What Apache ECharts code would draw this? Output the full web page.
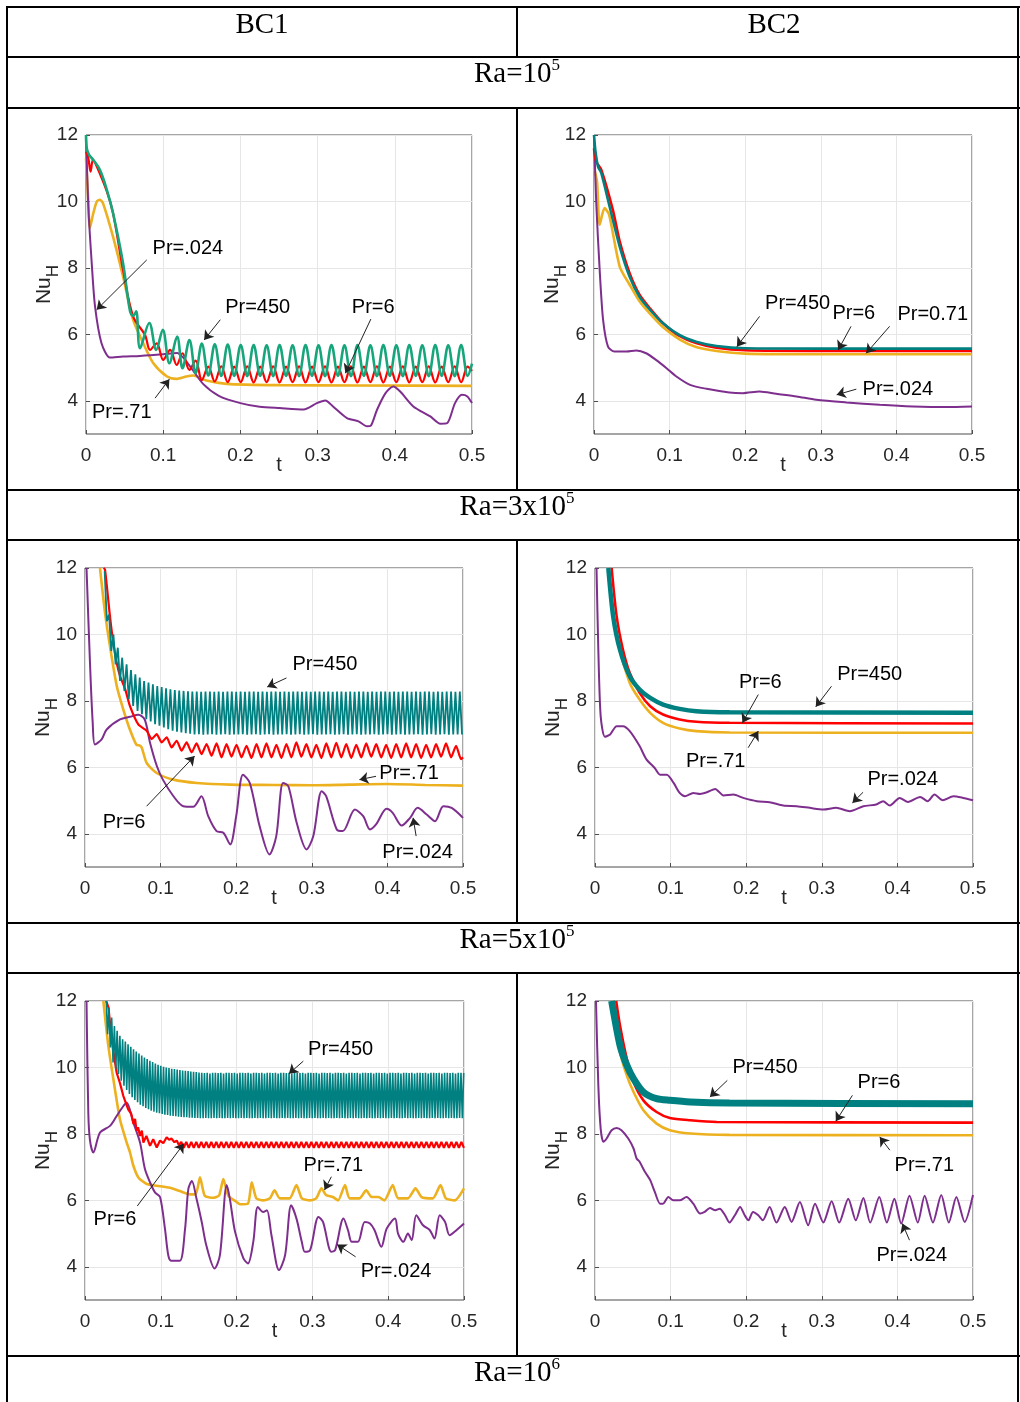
<!DOCTYPE html>
<html><head><meta charset="utf-8">
<script src="https://cdn.jsdelivr.net/npm/echarts@6/dist/echarts.min.js"></script>
<style>html,body{margin:0;padding:0;background:#fff}#c{width:1020px;height:1402px}</style>
</head><body><div id="c"></div><script>
// ---------------- DATA ----------------
const xTicks = [0, 0.1, 0.2, 0.3, 0.4, 0.5];
const yTicks = [4, 6, 8, 10, 12];
const colHeads = ['BC1', 'BC2'];
const rowBases = ['Ra=10', 'Ra=3x10', 'Ra=5x10', 'Ra=10'];
const rowExps = ['5', '5', '5', '6'];

// Panel 1: BC1, Ra=1e5
const p1_pr024 = [[0,12],[0.003,9.84],[0.0074,8.15],[0.0117,6.84],[0.02,5.74],[0.031,5.3],[0.048,5.33],[0.07,5.35],[0.1,5.4],[0.118,5.44],[0.126,5.3],[0.135,5.03],[0.152,4.5],[0.172,4.15],[0.2,3.93],[0.225,3.82],[0.251,3.78],[0.282,3.74],[0.299,3.93],[0.31,4.01],[0.32,3.83],[0.338,3.48],[0.353,3.38],[0.364,3.23],[0.369,3.25],[0.377,3.73],[0.388,4.23],[0.398,4.43],[0.407,4.28],[0.424,3.83],[0.446,3.53],[0.459,3.31],[0.468,3.33],[0.478,3.93],[0.487,4.18],[0.494,4.13],[0.5,3.93]];
const p1_pr071 = [[0,11.3],[0.003,10.0],[0.005,9.2],[0.009,9.6],[0.014,10.0],[0.018,10.05],[0.022,9.95],[0.035,8.94],[0.048,7.74],[0.061,6.44],[0.074,5.74],[0.087,5.14],[0.105,4.73],[0.117,4.66],[0.13,4.73],[0.139,4.76],[0.156,4.61],[0.182,4.51],[0.25,4.47],[0.35,4.46],[0.5,4.45]];
const p1_pr6_head = [[0,11.5],[0.003,11.3],[0.006,10.9],[0.009,11.25],[0.014,11.05],[0.027,10.3],[0.035,9.65],[0.048,7.94],[0.061,6.54],[0.0765,5.98],[0.083,5.53],[0.0916,5.73],[0.1,5.23],[0.109,5.53],[0.1175,5.08],[0.125,5.43],[0.134,4.93],[0.142,5.21]];
const p1_pr6_osc = [4.62,5.03,4.58,5.04,4.56,5.03,4.56,5.04,4.55,5.03,
4.56,5.04,4.55,5.03,4.56,5.04,4.55,5.03,4.56,5.04,
4.55,5.03,4.56,5.04,4.55,5.03,4.56,5.04,4.55,5.03,
4.56,5.04,4.55,5.03,4.56,5.04,4.55,5.03,4.56,5.04,
4.56];
const p1_pr6_tail = [[0.4944,5.03],[0.5,4.9]];
const p1_pr450_head = [[0,12],[0.001,11.6],[0.004,11.4],[0.0095,11.25],[0.018,10.95],[0.027,10.35],[0.035,9.65],[0.048,8.14],[0.057,6.7],[0.061,6.55],[0.065,6.69],[0.07,5.58],[0.082,6.34],[0.091,5.53],[0.0994,6.14],[0.108,5.13],[0.118,5.93],[0.125,4.98],[0.134,5.83],[0.142,4.83]];
const p1_pr450_osc = [5.72,4.76,5.7,4.75,5.69,4.75,5.68,4.74,5.68,4.75,
5.67,4.74,5.68,4.75,5.67,4.74,5.68,4.75,5.67,4.74,
5.68,4.75,5.67,4.74,5.68,4.75,5.67,4.74,5.68,4.75,
5.67,4.74,5.68,4.75,5.67,4.74,5.68,4.75,5.67,4.74,
5.68];
const p1_pr450_tail = [[0.4944,4.75],[0.5,5.12]];
const p1_osc_t0 = 0.150, p1_osc_dt = 0.0084;

// Panel 2: BC2, Ra=1e5
const p2_pr024 = [[0,12],[0.003,9.94],[0.0075,7.94],[0.012,6.44],[0.0185,5.63],[0.027,5.48],[0.043,5.48],[0.056,5.51],[0.069,5.43],[0.082,5.23],[0.096,4.98],[0.109,4.73],[0.127,4.48],[0.149,4.36],[0.179,4.25],[0.197,4.23],[0.219,4.28],[0.241,4.21],[0.268,4.13],[0.294,4.03],[0.334,3.95],[0.378,3.88],[0.422,3.83],[0.466,3.81],[0.5,3.83]];
const p2_pr071 = [[0,11],[0.004,10.6],[0.0075,9.3],[0.014,9.8],[0.02,9.6],[0.034,8.04],[0.047,7.5],[0.06,7.0],[0.074,6.62],[0.091,6.22],[0.113,5.85],[0.135,5.62],[0.162,5.5],[0.2,5.42],[0.3,5.4],[0.5,5.4]];
const p2_pr6 = [[0,11.6],[0.003,11.2],[0.0097,10.95],[0.025,9.74],[0.034,8.8],[0.047,7.85],[0.06,7.2],[0.074,6.78],[0.091,6.34],[0.113,5.95],[0.135,5.74],[0.162,5.6],[0.2,5.52],[0.3,5.5],[0.5,5.5]];
const p2_pr450 = [[0,12],[0.002,11.5],[0.0053,11.05],[0.0097,10.85],[0.0207,9.84],[0.034,8.64],[0.047,7.74],[0.06,7.14],[0.074,6.74],[0.091,6.34],[0.113,5.98],[0.135,5.78],[0.162,5.65],[0.2,5.58],[0.3,5.57],[0.5,5.57]];

// Panel 3: BC1, Ra=3e5
const p3_pr024 = [[0.002,12],[0.0066,9.14],[0.0102,7.34],[0.0132,6.69],[0.022,6.84],[0.0287,7.14],[0.0463,7.44],[0.0595,7.52],[0.0705,7.58],[0.079,7.44],[0.086,6.74],[0.095,6.04],[0.103,5.63],[0.117,5.13],[0.13,4.83],[0.143,4.81],[0.154,5.13],[0.163,4.53],[0.174,4.08],[0.183,4.03],[0.192,3.68],[0.2,4.53],[0.209,5.78],[0.218,5.53],[0.231,4.23],[0.244,3.38],[0.253,3.93],[0.262,5.53],[0.269,5.43],[0.28,4.33],[0.293,3.53],[0.302,3.93],[0.313,5.28],[0.319,5.13],[0.333,4.13],[0.341,4.08],[0.357,4.73],[0.368,4.53],[0.377,4.13],[0.385,4.28],[0.399,4.75],[0.407,4.63],[0.419,4.25],[0.43,4.48],[0.44,4.78],[0.452,4.58],[0.463,4.38],[0.474,4.83],[0.485,4.78],[0.5,4.48]];
const p3_pr071 = [[0.0198,12],[0.0265,10.65],[0.033,9.65],[0.042,8.45],[0.0507,7.74],[0.0595,7.13],[0.068,6.68],[0.072,6.66],[0.075,6.6],[0.0816,6.13],[0.0948,5.83],[0.117,5.63],[0.148,5.53],[0.192,5.48],[0.25,5.47],[0.3,5.46],[0.35,5.48],[0.4,5.5],[0.45,5.47],[0.5,5.45]];
const p3_pr6_head = [[0.0245,12],[0.0265,11.95],[0.033,10.55],[0.0375,9.74],[0.042,9.14],[0.0463,8.75],[0.053,8.36],[0.0595,7.84],[0.0705,7.29]];
const p3_pr6_osc = [7.1,6.85,7.0,6.75,6.9,6.6,6.8,6.5,6.75,6.45,
6.72,6.4,6.7,6.35,6.72,6.3,6.7,6.32,6.68,6.3,
6.65,6.28,6.7,6.3,6.72,6.3,6.68,6.28,6.7,6.3,
6.75,6.32,6.7,6.3,6.68,6.28,6.72,6.3,6.74,6.3,
6.7,6.28,6.68,6.3,6.72,6.32,6.7,6.3,6.68,6.28,
6.7,6.3,6.72,6.3,6.7,6.28,6.68,6.3,6.7,6.32,
6.72,6.3,6.65,6.25];
const p3_pr6_tail = [[0.5,6.3]];
const p3_pr6_t0 = 0.0816, p3_pr6_dt = 0.0066;
const p3_pr450_osc = [11.9,10.4,10.6,9.5,10.0,9.1,9.6,8.6,9.3,8.3,
9.1,8.05,8.93,7.85,8.8,7.7,8.7,7.6,8.6,7.45,
8.55,7.38,8.5,7.3,8.45,7.25,8.42,7.2,8.38,7.15,
8.35,7.1,8.33,7.07,8.31,7.05,8.3,7.03,8.29,7.01,
8.28,
6.99,8.28,7.0,8.27,6.98,8.28,6.99,8.28,7.0,8.27,
6.98,8.28,6.99,8.27,7.0,8.28,6.98,8.28,6.99,8.27,
6.99,8.28,7.0,8.27,6.98,8.28,6.99,8.28,7.0,8.27,
6.98,8.28,6.99,8.27,7.0,8.28,6.98,8.28,6.99,8.27,
6.99,8.28,7.0,8.27,6.98,8.28,6.99,8.28,7.0,8.27,
6.98,8.28,6.99,8.27,7.0,8.28,6.98,8.28,6.99,8.27,
6.99,8.28,7.0,8.27,6.98,8.28,6.99,8.28,7.0,8.27,
6.98,8.28,6.99,8.27,7.0,8.28,6.98,8.28,6.99,8.27,
6.99,8.28,7.0,8.27,6.98,8.28,6.99,8.28,7.0,8.27,
6.98,8.28,6.99,8.27,7.0,8.28,6.98,8.28,6.99,8.27,
6.99,8.28,7.0,8.27,6.98,8.28,6.99,8.28,7.0,8.27,
6.98,8.28,6.99,8.27,7.0,8.28,6.98,8.28,6.99,8.27,
6.99,8.28,6.99];
const p3_pr450_t0 = 0.026, p3_pr450_dt = 0.0029;

// Panel 4: BC2, Ra=3e5
const p4_pr024 = [[0.002,12],[0.0044,9.54],[0.0075,7.54],[0.013,6.92],[0.02,6.99],[0.0286,7.24],[0.037,7.24],[0.046,7.09],[0.059,6.64],[0.068,6.24],[0.079,5.98],[0.086,5.78],[0.095,5.78],[0.104,5.53],[0.112,5.23],[0.119,5.13],[0.13,5.23],[0.139,5.2],[0.148,5.25],[0.159,5.35],[0.17,5.15],[0.183,5.18],[0.196,5.08],[0.214,4.98],[0.231,4.95],[0.249,4.85],[0.267,4.83],[0.284,4.78],[0.302,4.73],[0.319,4.78],[0.337,4.68],[0.355,4.83],[0.372,4.88],[0.381,4.98],[0.39,4.85],[0.403,5.08],[0.414,4.96],[0.43,5.11],[0.44,4.98],[0.449,5.18],[0.46,5.01],[0.474,5.13],[0.487,5.08],[0.5,5.01]];
const p4_pr071 = [[0.0176,12],[0.022,11.0],[0.03,9.8],[0.046,8.54],[0.059,8.04],[0.073,7.64],[0.09,7.34],[0.112,7.17],[0.134,7.09],[0.178,7.05],[0.5,7.04]];
const p4_pr6 = [[0.022,12],[0.0286,10.55],[0.037,9.54],[0.046,8.84],[0.059,8.24],[0.073,7.84],[0.09,7.59],[0.112,7.44],[0.134,7.37],[0.178,7.34],[0.5,7.32]];
const p4_pr450 = [[0.0176,12],[0.024,10.55],[0.033,9.54],[0.046,8.74],[0.059,8.34],[0.073,8.09],[0.09,7.89],[0.112,7.76],[0.134,7.69],[0.178,7.66],[0.5,7.64]];

// Panel 5: BC1, Ra=5e5
const p5_pr024 = [[0.002,12],[0.0044,8.6],[0.0066,7.8],[0.011,7.44],[0.0198,8.04],[0.033,8.24],[0.0418,8.54],[0.0506,8.84],[0.055,8.94],[0.0638,8.34],[0.0726,7.74],[0.079,6.95],[0.0858,6.54],[0.0923,6.24],[0.099,6.1],[0.1055,5.14],[0.11,4.33],[0.114,4.18],[0.125,4.18],[0.132,5.14],[0.1363,6.34],[0.141,6.58],[0.147,6.06],[0.154,5.35],[0.16,4.65],[0.171,3.95],[0.178,4.35],[0.187,6.46],[0.191,6.06],[0.198,5.05],[0.209,4.25],[0.215,4.1],[0.222,4.75],[0.228,5.8],[0.235,5.65],[0.24,5.7],[0.246,4.95],[0.256,3.9],[0.264,4.35],[0.272,5.85],[0.279,5.45],[0.286,4.75],[0.29,4.45],[0.297,4.5],[0.308,5.5],[0.314,5.35],[0.325,4.45],[0.33,4.5],[0.341,5.45],[0.347,5.1],[0.352,4.75],[0.36,4.75],[0.369,5.35],[0.376,5.3],[0.382,5.1],[0.391,4.6],[0.398,5.15],[0.409,5.45],[0.413,5.0],[0.42,4.75],[0.426,5.0],[0.431,4.8],[0.437,5.55],[0.446,5.25],[0.455,5.1],[0.461,4.85],[0.468,5.55],[0.475,5.35],[0.481,4.95],[0.49,5.1],[0.5,5.3]];
const p5_pr071 = [[0.0242,12],[0.0308,10.65],[0.0374,9.65],[0.046,8.45],[0.055,7.74],[0.0594,7.44],[0.0638,7.04],[0.0704,6.69],[0.0814,6.49],[0.0946,6.44],[0.112,6.38],[0.125,6.28],[0.138,6.18],[0.146,6.18],[0.1517,6.69],[0.158,6.14],[0.169,6.08],[0.177,6.15],[0.1825,6.64],[0.189,6.14],[0.2,5.95],[0.2045,5.88],[0.215,5.9],[0.22,6.54],[0.226,6.06],[0.235,6.0],[0.244,6.06],[0.25,6.3],[0.257,6.06],[0.27,6.06],[0.279,6.46],[0.286,6.06],[0.297,6.0],[0.305,6.06],[0.312,6.36],[0.318,6.16],[0.327,6.1],[0.334,6.0],[0.343,6.46],[0.349,6.06],[0.362,6.06],[0.371,6.3],[0.378,6.1],[0.387,6.1],[0.395,6.0],[0.406,6.46],[0.413,6.06],[0.426,6.06],[0.436,6.36],[0.444,6.1],[0.459,6.06],[0.469,6.46],[0.476,6.06],[0.488,6.0],[0.5,6.36]];
const p5_pr6_head = [[0.028,12],[0.031,11.8],[0.035,10.85],[0.0418,9.84],[0.046,9.54],[0.0506,9.14],[0.057,8.74],[0.061,8.6],[0.064,8.3],[0.066,8.45],[0.068,8.1],[0.07,8.2],[0.0726,7.94],[0.075,8.1],[0.077,7.74],[0.081,7.94],[0.0858,7.64],[0.09,7.84],[0.0946,7.59],[0.099,7.8],[0.1033,7.72],[0.1077,7.9],[0.111,7.82],[0.114,7.86],[0.118,7.75],[0.121,7.8],[0.124,7.66]];
const p5_pr6_osc = [7.76,7.58,7.76,7.58,7.76,7.58,7.76,7.58,7.76,7.58,
7.76,7.58,7.76,7.58,7.76,7.58,7.76,7.58,7.76,7.58,
7.76,7.58,7.76,7.58,7.76,7.58,7.76,7.58,7.76,7.58,
7.76,7.58,7.76,7.58,7.76,7.58,7.76,7.58,7.76,7.58,
7.76,7.58,7.76,7.58,7.76,7.58,7.76,7.58,7.76,7.58,
7.76,7.58,7.76,7.58,7.76,7.58,7.76,7.58,7.76,7.58,
7.76,7.58,7.76,7.58,7.76,7.58,7.76,7.58,7.76,7.58,
7.76,7.58,7.76,7.58,7.76,7.58,7.76,7.58,7.76,7.58,
7.76,7.58,7.76,7.58,7.76,7.58,7.76,7.58,7.76,7.58,
7.76,7.58,7.76,7.58,7.76,7.58,7.76,7.58,7.76,7.58,
7.76,7.58,7.76,7.58,7.76,7.58,7.76,7.58,7.76,7.58,
7.76,7.58,7.76,7.58];
const p5_pr6_t0 = 0.127, p5_pr6_dt = 0.0033;
const p5_pr450_osc = [12.0,11.0,11.8,10.6,11.5,10.15,11.25,9.95,11.1,9.8,
10.95,9.6,10.85,9.45,10.78,9.32,10.7,9.2,10.62,9.1,
10.55,9.02,10.48,8.95,10.42,8.88,10.36,8.83,10.3,8.78,
10.25,8.74,10.2,8.7,10.16,8.67,10.12,8.64,10.08,8.62,
10.05,8.6,10.02,8.58,10.0,8.57,9.98,8.55,9.96,8.54,
9.95,8.53,9.94,8.52,9.92,8.51,9.91,8.5,9.9,8.5,
9.89,8.49,9.88,8.49,9.87,8.48,9.86,8.48,9.85,8.47,
9.84,8.47,9.83,8.48,9.84,8.47,9.82,8.47,9.84,8.48,9.84,8.47,9.83,8.48,9.84,8.47,9.82,8.47,9.84,8.48,
9.84,8.47,9.83,8.48,9.84,8.47,9.82,8.47,9.84,8.48,9.84,8.47,9.83,8.48,9.84,8.47,9.82,8.47,9.84,8.48,
9.84,8.47,9.83,8.48,9.84,8.47,9.82,8.47,9.84,8.48,9.84,8.47,9.83,8.48,9.84,8.47,9.82,8.47,9.84,8.48,
9.84,8.47,9.83,8.48,9.84,8.47,9.82,8.47,9.84,8.48,9.84,8.47,9.83,8.48,9.84,8.47,9.82,8.47,9.84,8.48,
9.84,8.47,9.83,8.48,9.84,8.47,9.82,8.47,9.84,8.48,9.84,8.47,9.83,8.48,9.84,8.47,9.82,8.47,9.84,8.48,
9.84,8.47,9.83,8.48,9.84,8.47,9.82,8.47,9.84,8.48,9.84,8.47,9.83,8.48,9.84,8.47,9.82,8.47,9.84,8.48,
9.84,8.47,9.83,8.48,9.84,8.47,9.82,8.47,9.84,8.48,9.84,8.47,9.83,8.48,9.84,8.47,9.82,8.47,9.84,8.48,
9.84,8.47,9.83,8.48,9.84,8.47,9.82,8.47,9.84,8.48,9.84,8.47,9.83,8.48,9.84,8.47,9.82,8.47,9.84,8.48,
9.84,8.47,9.83,8.48,9.84,8.47,9.82,8.47,9.84,8.48,9.84,8.47,9.83,8.48,9.84,8.47,9.82,8.47,9.84,8.48,
9.84,8.47,9.83,8.48,9.84,8.47,9.82,8.47,9.84,8.48,9.84,8.47,
9.83];
const p5_pr450_t0 = 0.028, p5_pr450_dt = 0.0018;

// Panel 6: BC2, Ra=5e5
const p6_pr024 = [[0.0013,12],[0.0044,9.46],[0.0075,8.16],[0.011,7.76],[0.0154,7.86],[0.022,8.11],[0.0286,8.18],[0.035,8.11],[0.044,7.86],[0.051,7.56],[0.055,7.26],[0.059,7.16],[0.066,6.86],[0.073,6.61],[0.079,6.26],[0.086,5.9],[0.09,5.9],[0.097,6.1],[0.1035,6.0],[0.112,6.0],[0.121,6.1],[0.13,5.9],[0.139,5.6],[0.145,5.65],[0.152,5.77],[0.159,5.7],[0.165,5.75],[0.172,5.55],[0.178,5.33],[0.185,5.55],[0.192,5.8],[0.198,5.55],[0.203,5.4],[0.209,5.65],[0.216,5.55],[0.222,5.4],[0.231,5.8],[0.24,5.33],[0.251,5.8],[0.26,5.35],[0.271,5.95],[0.282,5.25],[0.291,5.9],[0.302,5.33],[0.313,5.97],[0.323,5.33],[0.335,6.05],[0.345,5.4],[0.355,6.07],[0.364,5.33],[0.376,6.1],[0.386,5.33],[0.396,6.05],[0.405,5.3],[0.416,6.14],[0.427,5.33],[0.436,6.14],[0.447,5.33],[0.458,6.16],[0.468,5.33],[0.478,6.1],[0.489,5.35],[0.5,6.16]];
const p6_pr071 = [[0.022,12],[0.033,10.47],[0.042,9.76],[0.051,9.26],[0.064,8.71],[0.0815,8.31],[0.099,8.11],[0.126,8.01],[0.178,7.97],[0.5,7.96]];
const p6_pr6 = [[0.028,12],[0.033,11.27],[0.042,10.27],[0.051,9.56],[0.064,9.01],[0.0815,8.66],[0.099,8.48],[0.126,8.41],[0.161,8.36],[0.5,8.34]];
const p6_pr450 = [[0.022,12],[0.033,10.67],[0.042,10.07],[0.051,9.66],[0.064,9.26],[0.0815,9.06],[0.099,9.01],[0.126,8.96],[0.178,8.93],[0.5,8.91]];

// Annotations: [label, label anchor, arrow start, arrow end]
const notes1 = [['Pr=.024',[0.085,8.59],[0.0787,8.24],[0.0138,6.74]],['Pr=450',[0.179,6.82],[0.174,6.44],[0.153,5.83]],['Pr=6',[0.343,6.82],[0.369,6.46],[0.336,4.83]],['Pr=.71',[0.0065,3.66],[0.0895,4.08],[0.108,4.65]]];
const notes2 = [['Pr=450',[0.225,6.94],[0.219,6.54],[0.189,5.63]],['Pr=6',[0.314,6.62],[0.340,6.24],[0.323,5.53]],['Pr=0.71',[0.40,6.59],[0.391,6.24],[0.360,5.43]],['Pr=.024',[0.354,4.33],[0.347,4.35],[0.321,4.18]]];
const notes3 = [['Pr=450',[0.273,9.11],[0.2665,8.69],[0.241,8.42]],['Pr=6',[0.022,4.33],[0.0815,4.83],[0.145,6.34]],['Pr=.71',[0.388,5.81],[0.385,5.73],[0.363,5.63]],['Pr=.024',[0.392,3.43],[0.438,3.93],[0.434,4.48]]];
const notes4 = [['Pr=6',[0.189,8.56],[0.216,8.19],[0.195,7.34]],['Pr=450',[0.319,8.79],[0.3128,8.44],[0.292,7.82]],['Pr=.71',[0.119,6.19],[0.2026,6.59],[0.216,7.09]],['Pr=.024',[0.359,5.63],[0.3546,5.25],[0.3405,4.93]]];
const notes5 = [['Pr=450',[0.293,10.55],[0.288,10.19],[0.269,9.81]],['Pr=6',[0.010,5.42],[0.069,5.83],[0.1305,7.71]],['Pr=.71',[0.287,7.06],[0.325,6.71],[0.316,6.31]],['Pr=.024',[0.3625,3.87],[0.357,4.30],[0.3326,4.67]]];
const notes6 = [['Pr=450',[0.1806,10.01],[0.175,9.61],[0.152,9.11]],['Pr=6',[0.346,9.54],[0.3405,9.16],[0.3185,8.38]],['Pr=.71',[0.395,7.04],[0.390,7.51],[0.3767,7.91]],['Pr=.024',[0.371,4.35],[0.416,4.8],[0.4066,5.3]]];

// ---------------- BUILD ----------------
function osc(t0, dt, ys) { return ys.map((y, i) => [Math.round((t0 + i * dt) * 1e6) / 1e6, y]); }

const PURPLE = '#7E2F8E', YELLOW = '#EDB120', RED = '#FF0000', TEAL = '#008080', GREEN = '#17A57B';
const SANS = 'Liberation Sans, Arial, sans-serif';
const SERIF = 'Liberation Serif, Times New Roman, serif';

const GRIDS = [
  {left: 86, top: 135, width: 386, height: 299},
  {left: 594, top: 135, width: 378, height: 299},
  {left: 85, top: 568, width: 378, height: 299},
  {left: 595, top: 568, width: 378, height: 299},
  {left: 85, top: 1001, width: 379, height: 299},
  {left: 595, top: 1001, width: 378, height: 299}
];

const panelLines = [
  [
    {d: p1_pr071, c: YELLOW, w: 2.6, s: 0.25},
    {d: p1_pr024, c: PURPLE, w: 2, s: 0.25},
    {d: p1_pr6_head.concat(osc(p1_osc_t0, p1_osc_dt, p1_pr6_osc), p1_pr6_tail), c: RED, w: 2.2, s: 0.35},
    {d: p1_pr450_head.concat(osc(p1_osc_t0, p1_osc_dt, p1_pr450_osc), p1_pr450_tail), c: GREEN, w: 2.6, s: 0.35}
  ],
  [
    {d: p2_pr071, c: YELLOW, w: 2.6, s: 0.25},
    {d: p2_pr024, c: PURPLE, w: 2, s: 0.25},
    {d: p2_pr6, c: RED, w: 2.6, s: 0.25},
    {d: p2_pr450, c: TEAL, w: 2.6, s: 0.25}
  ],
  [
    {d: p3_pr071, c: YELLOW, w: 2.6, s: 0.25},
    {d: p3_pr024, c: PURPLE, w: 2, s: 0.3},
    {d: p3_pr6_head.concat(osc(p3_pr6_t0, p3_pr6_dt, p3_pr6_osc), p3_pr6_tail), c: RED, w: 2.2, s: 0.2},
    {d: osc(p3_pr450_t0, p3_pr450_dt, p3_pr450_osc), c: TEAL, w: 1.8, s: false}
  ],
  [
    {d: p4_pr071, c: YELLOW, w: 2.6, s: 0.25},
    {d: p4_pr024, c: PURPLE, w: 2, s: 0.25},
    {d: p4_pr6, c: RED, w: 2.6, s: 0.25},
    {d: p4_pr450, c: TEAL, w: 4.5, s: 0.25}
  ],
  [
    {d: p5_pr071, c: YELLOW, w: 2.6, s: 0.2},
    {d: p5_pr024, c: PURPLE, w: 2, s: 0.3},
    {d: p5_pr6_head.concat(osc(p5_pr6_t0, p5_pr6_dt, p5_pr6_osc)), c: RED, w: 2.2, s: false},
    {d: osc(p5_pr450_t0, p5_pr450_dt, p5_pr450_osc), c: TEAL, w: 1.6, s: false}
  ],
  [
    {d: p6_pr071, c: YELLOW, w: 2.6, s: 0.25},
    {d: p6_pr024, c: PURPLE, w: 2, s: 0.25},
    {d: p6_pr6, c: RED, w: 2.6, s: 0.25},
    {d: p6_pr450, c: TEAL, w: 7, s: 0.25}
  ]
];
const panelNotes = [notes1, notes2, notes3, notes4, notes5, notes6];

const grid = [], xAxis = [], yAxis = [], series = [];
GRIDS.forEach((g, i) => {
  grid.push(Object.assign({show: true, borderColor: '#4d4d4d', borderWidth: 1, backgroundColor: '#fff', containLabel: false}, g));
  xAxis.push({
    type: 'value', gridIndex: i, min: 0, max: 0.5, interval: 0.1,
    axisLine: {show: false},
    axisTick: {show: true, inside: true, length: 4, lineStyle: {color: '#4d4d4d'}},
    axisLabel: {fontSize: 19, color: '#262626', fontFamily: SANS, margin: 12, customValues: xTicks},
    splitLine: {show: true, lineStyle: {color: '#e6e6e6', width: 1}},
    name: 't', nameLocation: 'middle', nameGap: 21, nameMoveOverlap: false,
    nameTextStyle: {fontSize: 20, color: '#262626', fontFamily: SANS, verticalAlign: 'top'}
  });
  yAxis.push({
    type: 'value', gridIndex: i, min: 3, max: 12,
    axisLine: {show: false},
    axisTick: {show: true, inside: true, length: 4, lineStyle: {color: '#4d4d4d'}, customValues: yTicks},
    axisLabel: {fontSize: 19, color: '#262626', fontFamily: SANS, margin: 8, customValues: yTicks},
    splitLine: {show: true, lineStyle: {color: '#e6e6e6', width: 1}},
    name: '{a|Nu}{b|H}', nameLocation: 'middle', nameRotate: 90, nameGap: 24, nameMoveOverlap: false,
    nameTextStyle: {
      rich: {
        a: {fontSize: 21, color: '#262626', fontFamily: SANS, lineHeight: 36, verticalAlign: 'middle'},
        b: {fontSize: 17, color: '#262626', fontFamily: SANS, verticalAlign: 'bottom'}
      }
    }
  });
  panelLines[i].forEach(L => {
    series.push({
      type: 'line', xAxisIndex: i, yAxisIndex: i, data: L.d,
      showSymbol: false, symbol: 'none', clip: true, silent: true, animation: false,
      smooth: L.s,
      lineStyle: {color: L.c, width: L.w}, z: 3
    });
  });
  const notes = panelNotes[i];
  series.push({
    type: 'scatter', xAxisIndex: i, yAxisIndex: i, symbol: 'circle', symbolSize: 2, silent: true, animation: false,
    data: notes.map(n => ({name: n[0], value: n[1]})),
    itemStyle: {color: 'rgba(255,255,255,0)', opacity: 1},
    label: {show: true, formatter: (p) => p.name, position: 'right', distance: 0, fontSize: 20, color: '#000', opacity: 1, fontFamily: SANS},
    labelLayout: {hideOverlap: false},
    z: 6
  });
  series.push({
    type: 'lines', coordinateSystem: 'cartesian2d', xAxisIndex: i, yAxisIndex: i, silent: true, animation: false,
    data: notes.map(n => ({coords: [n[2], n[3]]})),
    symbol: ['none', 'arrow'], symbolSize: 9,
    lineStyle: {color: '#222', width: 1, opacity: 1, curveness: 0}, z: 6
  });
});

// Table drawing
const H_LINES = [7, 57, 108, 490, 540, 923, 973, 1356];
const V_SEGS = [[7, 57], [108, 490], [540, 923], [973, 1356]];
const ROW_Y = [74, 507, 940, 1373];
const graphic = [];
H_LINES.forEach(y => graphic.push({type: 'line', shape: {x1: 6, y1: y, x2: 1020, y2: y}, style: {stroke: '#000', lineWidth: 2}, z: 10}));
graphic.push({type: 'line', shape: {x1: 7, y1: 6, x2: 7, y2: 1402}, style: {stroke: '#000', lineWidth: 2}, z: 10});
graphic.push({type: 'line', shape: {x1: 1018, y1: 6, x2: 1018, y2: 1402}, style: {stroke: '#000', lineWidth: 2}, z: 10});
V_SEGS.forEach(s => graphic.push({type: 'line', shape: {x1: 517, y1: s[0], x2: 517, y2: s[1]}, style: {stroke: '#000', lineWidth: 2}, z: 10}));
colHeads.forEach((t, i) => graphic.push({
  type: 'text', x: i === 0 ? 262 : 774, y: 25, z: 10,
  style: {text: t, font: '29px ' + SERIF, fill: '#000', align: 'center', verticalAlign: 'middle'}
}));
rowBases.forEach((t, i) => graphic.push({
  type: 'text', x: 517, y: ROW_Y[i], z: 10,
  style: {
    text: '{m|' + t + '}{s|' + rowExps[i] + '}', align: 'center', verticalAlign: 'middle',
    rich: {
      m: {fontSize: 29, fontFamily: SERIF, fill: '#000', lineHeight: 34, verticalAlign: 'middle'},
      s: {fontSize: 17, fontFamily: SERIF, fill: '#000', verticalAlign: 'top'}
    }
  }
}));

const chart = echarts.init(document.getElementById('c'), null, {renderer: 'canvas', width: 1020, height: 1402});
chart.setOption({
  backgroundColor: '#fff',
  animation: false,
  grid, xAxis, yAxis, series, graphic
});
</script></body></html>
